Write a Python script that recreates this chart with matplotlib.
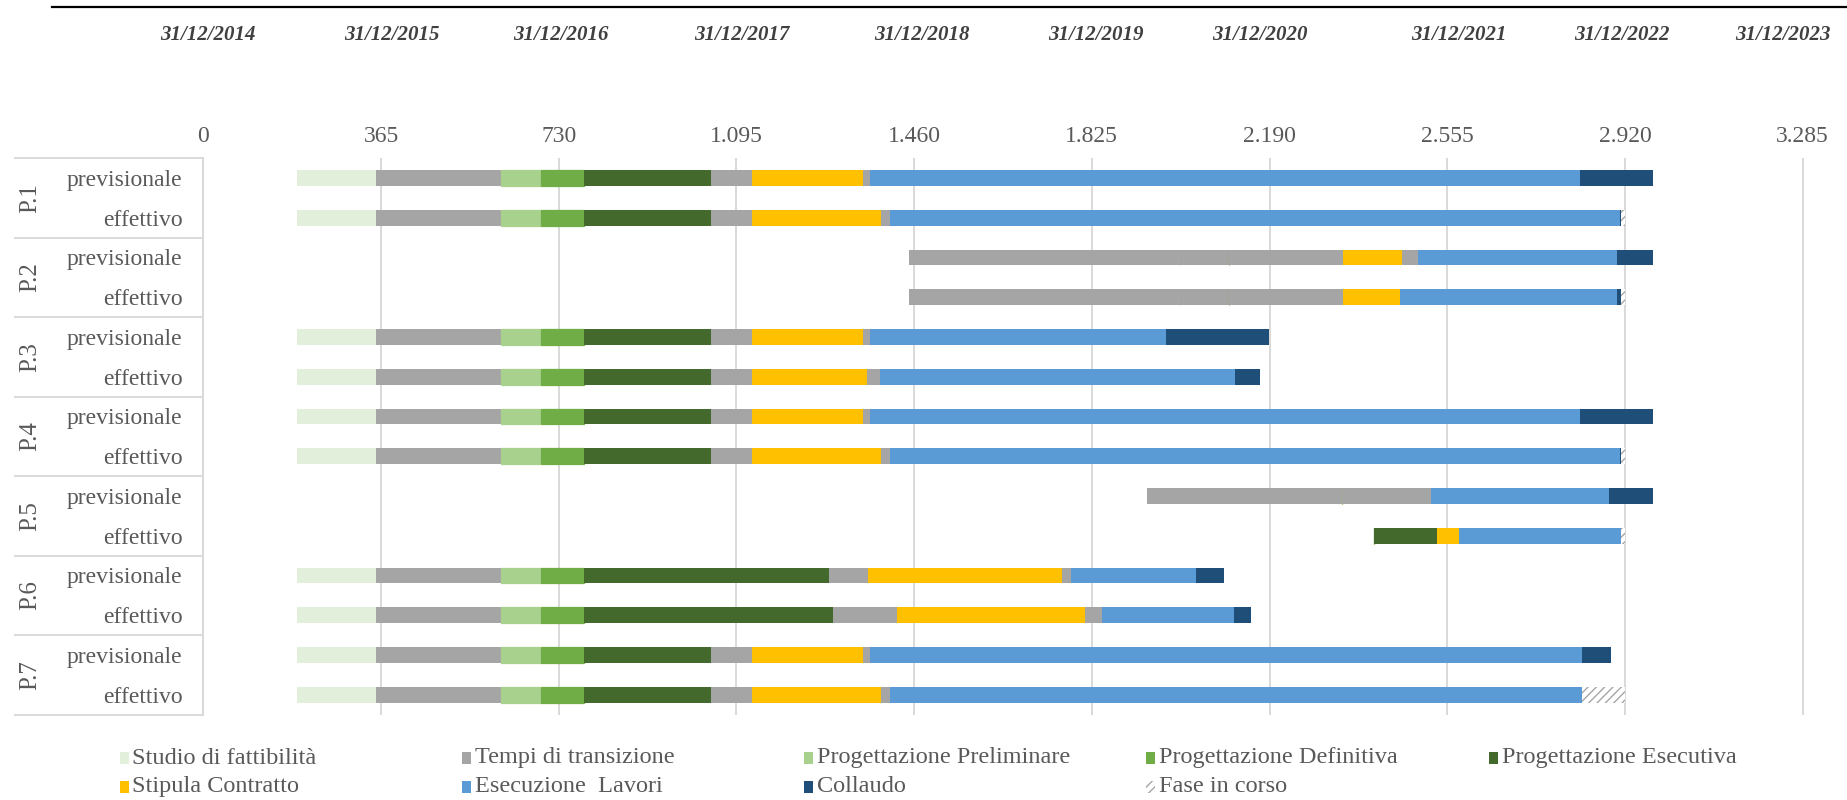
import matplotlib.pyplot as plt
from matplotlib.lines import Line2D
from matplotlib.patches import Rectangle
from matplotlib.ticker import FuncFormatter, MultipleLocator
from matplotlib.transforms import blended_transform_factory

plt.rcParams["font.family"] = ["Liberation Serif", "DejaVu Serif"]
plt.rcParams["hatch.linewidth"] = 1.0

projects = ["P.1", "P.2", "P.3", "P.4", "P.5", "P.6", "P.7"]
kinds = ["previsionale", "effettivo"]

phase_labels = [
    "Studio di fattibilità",
    "Tempi di transizione",
    "Progettazione Preliminare",
    "Progettazione Definitiva",
    "Progettazione Esecutiva",
    "Stipula Contratto",
    "Esecuzione  Lavori",
    "Collaudo",
    "Fase in corso",
]
phase_colors = ["#E2EFDA", "#A5A5A5", "#A9D18E", "#70AD47", "#436A2C",
                "#FFC000", "#5B9BD5", "#1F4E79", "white"]

# phase of each stacked segment (transition times sit between phases)
segment_phase = [0, 1, 2, 1, 3, 1, 4, 1, 5, 1, 6, 7, 8]

# start day of every bar, counted from 31/12/2014
start_days = [193, 193, 1449, 1449, 193, 193, 193, 193, 1939, 2404, 193, 193, 193, 193]

# durations in days, one value per stacked segment
p1_prev = [162, 256, 82, 0, 89, 0, 261, 84, 228, 14, 1459, 150, 0]
p1_eff = [162, 256, 82, 0, 89, 0, 261, 84, 265, 19, 1499, 2, 8]
p2_prev = [0, 556, 0, 101, 0, 235, 0, 0, 121, 34, 408, 74, 0]
p2_eff = [0, 556, 0, 101, 0, 235, 0, 0, 118, 0, 445, 7, 9]
p3_prev = [162, 256, 82, 0, 89, 0, 261, 84, 228, 14, 608, 212, 0]
p3_eff = [162, 256, 82, 0, 89, 0, 261, 84, 237, 26, 730, 50, 0]
p4_prev = [162, 256, 82, 0, 89, 0, 261, 84, 228, 14, 1459, 150, 0]
p4_eff = [162, 256, 82, 0, 89, 0, 261, 84, 265, 19, 1499, 2, 8]
p5_prev = [0, 399, 0, 0, 0, 152, 0, 0, 0, 32, 365, 90, 0]
p5_eff = [0, 0, 0, 0, 0, 0, 130, 0, 46, 0, 332, 0, 8]
p6_prev = [162, 256, 82, 0, 89, 0, 503, 80, 398, 19, 256, 59, 0]
p6_eff = [162, 256, 82, 0, 89, 0, 511, 132, 387, 33, 272, 35, 0]
p7_prev = [162, 256, 82, 0, 89, 0, 261, 84, 228, 14, 1463, 60, 0]
p7_eff = [162, 256, 82, 0, 89, 0, 261, 84, 265, 19, 1421, 0, 88]

durations = [p1_prev, p1_eff, p2_prev, p2_eff, p3_prev, p3_eff, p4_prev,
             p4_eff, p5_prev, p5_eff, p6_prev, p6_eff, p7_prev, p7_eff]

date_labels = ["31/12/2014", "31/12/2015", "31/12/2016", "31/12/2017", "31/12/2018",
               "31/12/2019", "31/12/2020", "31/12/2021", "31/12/2022", "31/12/2023"]
date_label_x = [9, 387, 735, 1107, 1477, 1834, 2171, 2579, 2914, 3244]

W, H = 1847, 800
TXT = "#595959"
GRID = "#D9D9D9"

fig = plt.figure(figsize=(W / 100, H / 100), dpi=100)
ax = fig.add_axes([203.3 / W, 1 - 714.6 / H, 1640.7 / W, (714.6 - 158.1) / H])

rows = list(range(len(start_days)))
left = list(start_days)
for j, ph in enumerate(segment_phase):
    widths = [d[j] for d in durations]
    if ph == 8:
        ax.barh(rows, widths, left=left, height=0.4, color="white",
                edgecolor="#A6A6A6", hatch="////", linewidth=0)
    elif ph in (2, 3):
        ax.barh(rows, widths, left=left, height=0.4, color=phase_colors[ph],
                edgecolor=phase_colors[ph], linewidth=0.9)
    else:
        ax.barh(rows, widths, left=left, height=0.4, color=phase_colors[ph], linewidth=0)
    left = [a + b for a, b in zip(left, widths)]

ax.set_xlim(0, 3370)
ax.set_ylim(len(rows) - 0.5, -0.5)
ax.xaxis.set_major_locator(MultipleLocator(365))
ax.xaxis.set_major_formatter(FuncFormatter(lambda v, p: f"{v:,.0f}".replace(",", ".")))
ax.xaxis.tick_top()
ax.tick_params(axis="x", length=0, pad=8, labelsize=17, labelcolor=TXT)
ax.grid(axis="x", color=GRID, lw=1.4)
ax.set_axisbelow(True)
for s in ("top", "right", "bottom"):
    ax.spines[s].set_visible(False)
ax.spines["left"].set_color(GRID)
ax.spines["left"].set_linewidth(1.4)

ax.set_yticks(rows)
ax.set_yticklabels(kinds * len(projects))
ax.tick_params(axis="y", length=0, pad=15, labelsize=17, labelcolor=TXT)

# project names and separators of the label table
trans = blended_transform_factory(fig.transFigure, ax.transData)
for g, name in enumerate(projects):
    ax.text(30 / W, 2 * g + 0.5, name, rotation=90, ha="center", va="center",
            transform=trans, fontsize=18, color=TXT)
for b in range(len(projects) + 1):
    ax.plot([15 / W, 203.3 / W], [2 * b - 0.5] * 2, transform=trans,
            color=GRID, lw=1.4, clip_on=False)

# calendar dates above the day scale
dtrans = blended_transform_factory(ax.transData, fig.transFigure)
for lab, x in zip(date_labels, date_label_x):
    ax.text(x, 1 - 34.5 / H, lab, transform=dtrans, ha="center", va="center",
            fontsize=15, fontstyle="italic", fontweight="bold", color="#404040")

fig.add_artist(Line2D([51.5 / W, 1], [1 - 6.7 / H] * 2, color="black", lw=1.6))

# legend, five columns
for i, (lab, col) in enumerate(zip(phase_labels, phase_colors)):
    r, c = divmod(i, 5)
    x0 = 119.5 + 342.3 * c
    yc = 758 + 28.7 * r
    if i == 8:
        patch = Rectangle((x0 / W, 1 - (yc + 6) / H), 9 / W, 12 / H, transform=fig.transFigure,
                          facecolor="white", edgecolor="#A6A6A6", hatch="////", linewidth=0)
    else:
        patch = Rectangle((x0 / W, 1 - (yc + 6) / H), 9 / W, 12 / H, transform=fig.transFigure,
                          facecolor=col, linewidth=0)
    fig.add_artist(patch)
    fig.text((x0 + 13) / W, 1 - yc / H, lab, ha="left", va="center", fontsize=17.5, color=TXT)

fig.savefig("out.png", dpi=100)
